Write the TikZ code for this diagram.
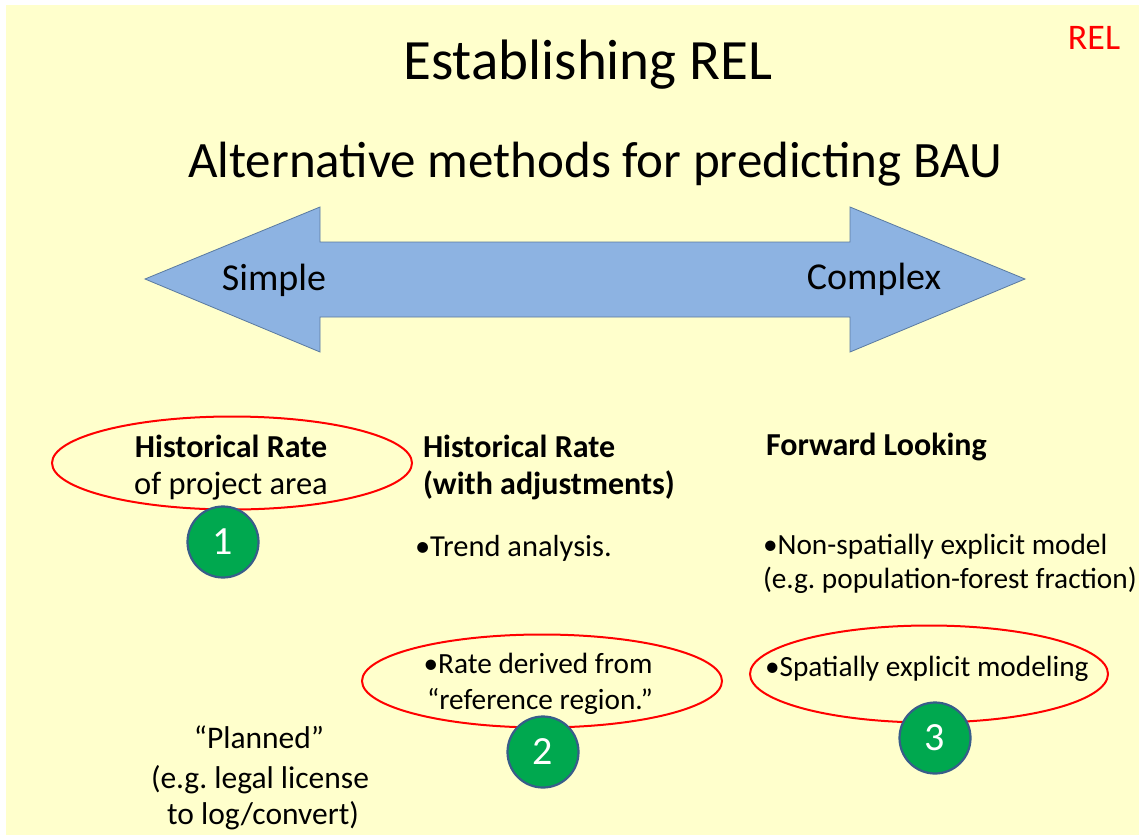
\documentclass[tikz,border=0pt]{standalone}
\usepackage{fontspec}
\setmainfont{Carlito}
\usetikzlibrary{shapes.geometric}
\definecolor{bgyellow}{HTML}{FFFFCC}
\definecolor{arrowfill}{HTML}{8DB3E2}
\definecolor{arrowline}{HTML}{5A7AA0}
\definecolor{numgreen}{HTML}{00A84F}
\definecolor{numblue}{HTML}{385D8A}
\definecolor{relred}{HTML}{FF0000}
\frenchspacing
\begin{document}
\begin{tikzpicture}[x=1pt,y=-1pt,
  every node/.style={inner sep=0pt, outer sep=0pt},
  body/.style={font=\fontsize{29.3}{35}\selectfont, anchor=base west},
  bodyc/.style={font=\fontsize{29.3}{35}\selectfont, anchor=base},
  plain/.style={font=\fontsize{31.5}{37}\selectfont, anchor=base},
  headb/.style={font=\fontsize{32}{37}\selectfont\bfseries, anchor=base west},
  headbc/.style={font=\fontsize{32}{37}\selectfont\bfseries, anchor=base},
  ring/.style={ellipse, draw=relred, line width=2pt, minimum width=#1, minimum height=93pt},
  numdot/.style={circle, minimum size=71pt, fill=numgreen, draw=numblue, line width=2.2pt, text=white, font=\fontsize{40}{40}\selectfont}
]
\useasboundingbox (0,0) rectangle (1139,835);
\fill[white] (0,0) rectangle (1139,835);
\fill[bgyellow] (6,5) rectangle (1139,835);

% titles
\node[anchor=base, font=\fontsize{57}{60}\selectfont] (title) at (588,79) {Establishing REL};
\node[anchor=base, font=\fontsize{36}{40}\selectfont, text=relred] (rel) at (1094,49) {REL};
\node[anchor=base, font=\fontsize{51}{56}\selectfont] (subtitle) at (595,177) {Alternative methods for predicting BAU};

% double arrow
\draw[fill=arrowfill, draw=arrowline, line width=0.8pt, line join=miter]
  (145,279) -- (320,207) -- (320,242) -- (850,242) -- (850,207) -- (1025,279)
  -- (850,352) -- (850,317) -- (320,317) -- (320,352) -- cycle;
\node[anchor=base, font=\fontsize{38}{40}\selectfont] (simple) at (274,290) {Simple};
\node[anchor=base, font=\fontsize{38}{40}\selectfont] (complex) at (874,289) {Complex};

% column 1
\node[ring=360pt] (e1) at (232,463) {};
\node[headbc] (h1) at (231,457) {Historical Rate};
\node[plain, font=\fontsize{32.5}{37}\selectfont] (h1b) at (231,494) {of project area};
\node[numdot] (n1) at (223,542) {1};

% column 2
\node[headb] (h2) at (423,457) {Historical Rate};
\node[headb] (h2b) at (423,494) {(with adjustments)};
\node[body, font=\fontsize{30.5}{36}\selectfont] (t2) at (415,556) {•Trend analysis.};
\node[ring=360pt] (e2) at (542,681) {};
\node[bodyc] (r2a) at (538,673) {•Rate derived from};
\node[bodyc] (r2b) at (540,709) {“reference region.”};
\node[numdot] (n2) at (543,752) {2};

% column 3
\node[headb] (h3) at (766,455) {Forward Looking};
\node[body] (t3a) at (763,554) {•Non-spatially explicit model};
\node[body] (t3b) at (763,588) {(e.g. population-forest fraction)};
\node[ring=358pt, minimum height=97pt] (e3) at (929,674) {};
\node[body] (t3c) at (765,676) {•Spatially explicit modeling};
\node[numdot] (n3) at (935,738) {3};

% planned
\node[plain] (p1) at (259,748) {“Planned”};
\node[plain] (p2) at (260,788) {(e.g. legal license};
\node[plain] (p3) at (263,824) {to log/convert)};
\end{tikzpicture}
\end{document}
